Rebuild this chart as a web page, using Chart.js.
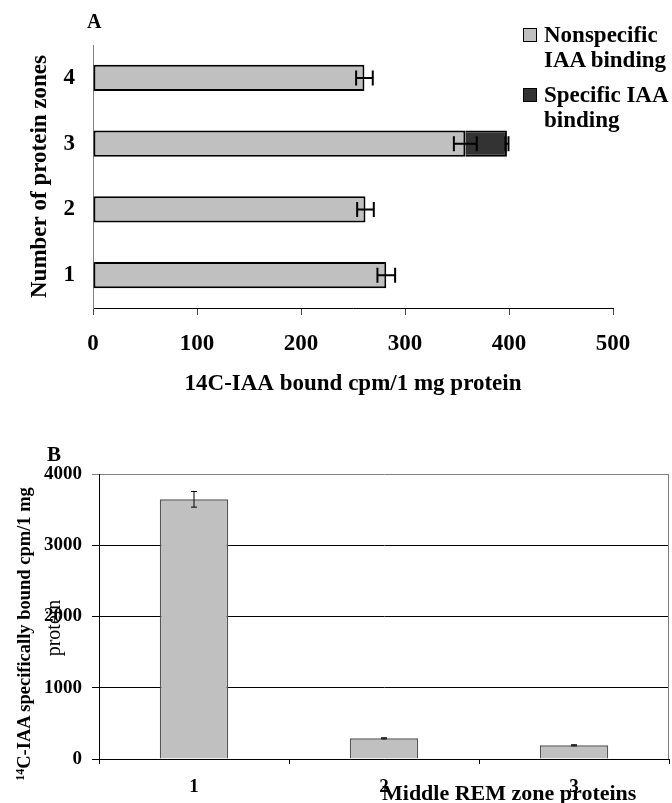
<!DOCTYPE html>
<html><head><meta charset="utf-8">
<script src="https://cdn.jsdelivr.net/npm/chart.js@4"></script>
<style>
html,body{margin:0;padding:0;background:#fff;}
#wrap{position:relative;width:672px;height:803px;overflow:hidden;font-family:'Liberation Serif','Times New Roman',serif;color:#000;}
canvas{position:absolute;left:0;}
.t{position:absolute;white-space:nowrap;font-weight:bold;}
.sq{position:absolute;width:14px;height:14px;box-sizing:border-box;border:1.5px solid #000;}
</style></head><body>
<div id="wrap">
<canvas id="ca" width="672" height="420" style="top:0"></canvas>
<canvas id="cb" width="672" height="383" style="top:420px"></canvas>

<div class="t" style="left:87px;top:11px;font-size:20px;line-height:20px">A</div>
<div class="sq" style="left:523px;top:28px;background:#c0c0c0"></div>
<div class="t" style="left:544px;top:22px;font-size:23px;line-height:25px">Nonspecific<br>IAA binding</div>
<div class="sq" style="left:523px;top:88px;background:#333333"></div>
<div class="t" style="left:544px;top:82px;font-size:23px;line-height:25px">Specific IAA<br>binding</div>

<div class="t" style="left:47px;top:444px;font-size:21px;line-height:21px">B</div>
<div class="t" style="left:22px;top:634px;font-size:18.5px;line-height:20px;transform:translate(-50%,-50%) rotate(-90deg)"><sup style="font-size:12px;vertical-align:6px">14</sup>C-IAA specifically bound cpm/1 mg</div>
<div class="t" style="left:53px;top:628px;font-size:20px;line-height:20px;font-weight:normal;transform:translate(-50%,-50%) rotate(-90deg)">protein</div>
<div class="t" style="left:382px;top:782px;font-size:22px;line-height:22px">Middle REM zone proteins</div>
</div>
<script>
// ---- Data: chart A ----
const zones = ['1', '2', '3', '4'];
const nonspecific = [282, 262, 358, 261];
const nonspecificErr = [8.5, 8, 11, 8];
const specific = [0, 0, 40, 0];
const specificErr = [0, 0, 1.5, 0];
const xTicksA = [0, 100, 200, 300, 400, 500];

// ---- Data: chart B ----
const proteins = ['1', '2', '3'];
const specificBound = [3645, 290, 192];
const specificBoundErr = [110, 8, 8];
const yTicksB = [0, 1000, 2000, 3000, 4000];

Chart.defaults.font.family = "'Liberation Serif','Times New Roman',serif";
Chart.defaults.font.weight = 'bold';
Chart.defaults.color = '#000';

const errorBars = {
  id: 'errorBars',
  afterDatasetsDraw(chart) {
    const ctx = chart.ctx;
    const horizontal = chart.options.indexAxis === 'y';
    const vScale = horizontal ? chart.scales.x : chart.scales.y;
    chart.data.datasets.forEach((ds, di) => {
      if (!ds.errors) return;
      const meta = chart.getDatasetMeta(di);
      meta.data.forEach((el, i) => {
        const v = ds.data[i], e = ds.errors[i];
        if (v == null || !e) return;
        const errPx = Math.abs(vScale.getPixelForValue(e) - vScale.getPixelForValue(0));
        const cap = ds.errorCap;
        ctx.save();
        ctx.strokeStyle = '#000';
        ctx.lineWidth = ds.errorWidth;
        ctx.beginPath();
        if (horizontal) {
          const end = el.x, y = el.y;
          ctx.moveTo(end - errPx, y); ctx.lineTo(end + errPx, y);
          ctx.moveTo(end - errPx, y - cap); ctx.lineTo(end - errPx, y + cap);
          ctx.moveTo(end + errPx, y - cap); ctx.lineTo(end + errPx, y + cap);
        } else {
          const end = el.y, x = el.x;
          ctx.moveTo(x, end - errPx); ctx.lineTo(x, end + errPx);
          ctx.moveTo(x - cap, end - errPx); ctx.lineTo(x + cap, end - errPx);
          ctx.moveTo(x - cap, end + errPx); ctx.lineTo(x + cap, end + errPx);
        }
        ctx.stroke();
        ctx.restore();
      });
    });
  }
};

const rightBorder = {
  id: 'rightBorder',
  afterDatasetsDraw(chart) {
    const {ctx, chartArea: a} = chart;
    ctx.save();
    ctx.strokeStyle = '#808080';
    ctx.lineWidth = 1;
    ctx.beginPath();
    ctx.moveTo(a.right - 0.5, a.top);
    ctx.lineTo(a.right - 0.5, a.bottom);
    ctx.stroke();
    ctx.restore();
  }
};

new Chart(document.getElementById('ca'), {
  type: 'bar',
  data: {
    labels: zones,
    datasets: [
      {
        label: 'Nonspecific IAA binding',
        data: nonspecific,
        errors: nonspecificErr,
        errorWidth: 2, errorCap: 7.5,
        backgroundColor: '#c0c0c0',
        borderColor: '#000',
        borderWidth: 2,
        borderSkipped: false
      },
      {
        label: 'Specific IAA binding',
        data: specific.map(v => v || null),
        errors: specificErr,
        errorWidth: 2, errorCap: 7.5,
        backgroundColor: '#333333',
        borderColor: '#000',
        borderWidth: {top: 2, right: 2, bottom: 2, left: 0},
        borderSkipped: false
      }
    ]
  },
  options: {
    indexAxis: 'y',
    responsive: false,
    animation: false,
    layout: {padding: {top: 45, right: 59, left: 0, bottom: 0}},
    plugins: {legend: {display: false}, tooltip: {enabled: false}},
    datasets: {bar: {categoryPercentage: 1, barPercentage: 0.4}},
    scales: {
      x: {
        stacked: true,
        min: 0, max: 500,
        afterBuildTicks: s => { s.ticks = xTicksA.map(v => ({value: v})); },
        ticks: {font: {size: 23, weight: 'bold'}, padding: 15, callback: v => String(v)},
        grid: {drawOnChartArea: false, drawTicks: true, tickLength: 7, color: '#444'},
        border: {color: '#000', width: 1},
        title: {display: true, text: '14C-IAA bound cpm/1 mg protein', font: {size: 23, weight: 'bold'}, padding: {top: 0, bottom: 22}},
        afterFit: s => { s.height = 112; }
      },
      y: {
        stacked: true,
        reverse: true,
        ticks: {font: {size: 23, weight: 'bold'}, padding: 18},
        grid: {drawOnChartArea: false, drawTicks: false},
        border: {color: '#808080', width: 1},
        title: {display: true, text: 'Number of protein zones', font: {size: 23, weight: 'bold'}, padding: {top: 26, bottom: 0}},
        afterFit: s => { s.width = 93; }
      }
    }
  },
  plugins: [errorBars]
});

new Chart(document.getElementById('cb'), {
  type: 'bar',
  data: {
    labels: proteins,
    datasets: [{
      label: '14C-IAA specifically bound',
      data: specificBound,
      errors: specificBoundErr,
      errorWidth: 1, errorCap: 3,
      backgroundColor: '#c0c0c0',
      borderColor: '#555',
      borderWidth: 1.5,
      borderSkipped: 'start'
    }]
  },
  options: {
    responsive: false,
    animation: false,
    layout: {padding: {top: 54, right: 3, left: 0, bottom: 0}},
    plugins: {legend: {display: false}, tooltip: {enabled: false}},
    datasets: {bar: {categoryPercentage: 1, barPercentage: 0.36}},
    scales: {
      x: {
        ticks: {font: {size: 19, weight: 'bold'}, padding: 12},
        grid: {drawOnChartArea: false, drawTicks: true, tickLength: 5, color: '#000', offset: true},
        border: {color: '#000', width: 1},
        afterFit: s => { s.height = 44; }
      },
      y: {
        min: 0, max: 4000,
        afterBuildTicks: s => { s.ticks = yTicksB.map(v => ({value: v})); },
        ticks: {font: {size: 19, weight: 'bold'}, padding: 10, callback: v => String(v)},
        grid: {color: c => (c.tick && c.tick.value === 4000) ? '#808080' : '#000', tickLength: 7, drawTicks: true},
        border: {color: '#000', width: 1},
        afterFit: s => { s.width = 99; }
      }
    }
  },
  plugins: [rightBorder, errorBars]
});
</script>
</body></html>
